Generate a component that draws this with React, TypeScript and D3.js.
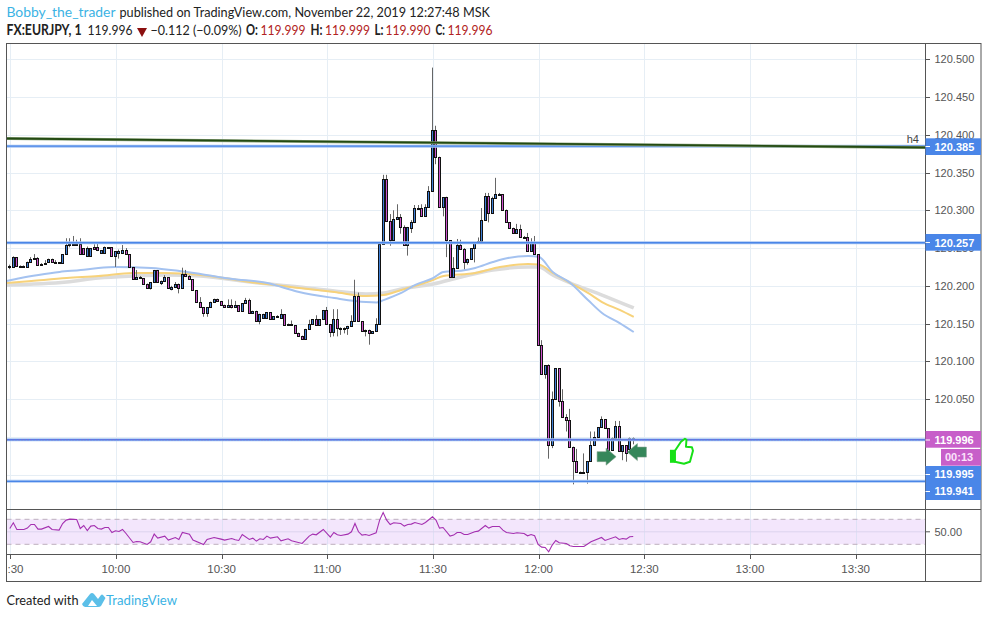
import React from "react";
import * as d3 from "d3";

// Prices are thousandths above 120.000
const basePrice = 120;
const opens = [225,225,238,226,226,225,231,236,237,228,229,231,236,231,231,230,242,254,254,256,256,250,240,240,252,252,244,244,251,251,240,243,243,247,242,225,209,212,210,203,197,205,221,204,207,211,196,199,203,197,216,213,209,194,179,172,164,172,179,182,180,174,172,175,172,174,167,177,181,164,167,153,157,157,165,156,159,158,162,148,150,148,138,134,130,143,150,156,148,156,168,149,139,156,144,144,144,147,154,187,153,140,142,137,140,149,255,341,286,261,288,291,278,254,277,284,303,303,292,304,326,407,371,305,317,260,212,224,254,249,232,236,250,258,259,287,319,297,316,322,321,301,284,277,270,275,265,264,246,258,242,122,83,95,-11,50,91,47,26,22,-13,-32,-46,-48,-46,-32,-11,0,13,23,11,-18,-1,14,-19,-11,-16,-1];
const highs = [228,239,238,227,227,232,238,242,238,230,234,236,236,234,231,242,263,263,266,261,263,250,252,250,255,256,247,252,251,251,246,248,254,250,242,225,221,213,210,203,205,221,221,207,214,211,200,205,203,224,221,214,209,194,185,172,172,179,183,183,180,175,182,182,180,174,177,184,183,167,167,163,163,165,165,160,161,169,162,150,154,148,138,134,143,155,156,161,156,168,172,149,169,169,145,145,147,161,208,191,153,142,142,140,157,255,347,347,295,300,308,295,280,278,287,307,307,308,308,332,489,412,371,317,318,260,238,262,261,250,236,250,258,264,303,323,323,318,343,323,321,301,284,277,282,281,266,270,263,266,242,128,95,96,60,91,91,63,30,37,-13,-16,-46,-22,-32,7,7,13,27,23,11,-1,21,21,-11,-11,-1,-1];
const lows = [222,224,225,225,225,224,231,236,228,228,228,231,231,230,229,230,242,251,254,255,242,242,240,240,249,246,244,244,250,240,225,236,243,242,225,209,208,210,203,197,195,205,205,201,207,197,194,197,190,197,213,209,194,179,172,159,159,172,179,180,174,172,172,170,172,167,167,177,164,164,153,149,157,157,156,156,158,158,148,148,148,138,134,130,130,143,150,148,148,156,149,132,133,133,135,137,135,147,154,153,140,133,122,137,140,149,255,286,253,260,288,269,254,240,270,283,303,292,292,304,326,361,305,292,238,212,212,224,249,222,228,236,231,258,259,287,284,297,316,321,301,284,277,270,270,265,264,246,246,242,122,83,77,-29,-15,50,40,26,7,-13,-63,-46,-48,-48,-62,-32,-11,0,13,11,-18,-18,-1,-19,-31,-33,-20,-10];
const closes = [226,238,226,226,226,231,236,237,228,229,230,236,231,231,230,242,254,255,256,256,242,242,250,250,249,247,247,251,251,240,246,246,247,242,225,209,212,210,203,197,205,221,205,207,211,197,199,203,197,216,213,209,194,179,172,164,172,179,182,180,174,172,175,172,175,167,177,181,164,167,153,163,163,165,156,160,160,162,148,150,148,138,134,130,143,150,156,148,156,168,149,139,156,144,144,144,147,154,187,153,140,142,137,140,149,255,341,286,261,288,291,278,254,278,284,303,303,292,304,326,407,371,305,317,260,212,224,254,249,232,236,250,258,259,287,319,297,316,322,321,301,284,277,270,275,265,264,246,258,242,122,83,95,-11,50,91,47,26,22,-13,-32,-46,-48,-46,-32,-11,0,13,23,11,-18,-1,14,-19,-11,-22,-1,-4];

const blueMinutes = [-1,3,8,14,20,25,30,40,48,54,63,73,77,82,92,101,104,106,111,115,120,123,128,132,137,140,147,150,154,159,164,168,173,177];
const blueValues = [206.4,210.3,214.3,218.3,220.9,223.6,224.9,223.6,219.6,215.6,209,203.7,198.4,191.8,183.8,178.5,178,181.1,190.5,201.1,210.3,218.3,220,223.6,231.5,235.5,239.5,238.4,218.3,203.7,181.2,164,150.7,138.8];
const yellowMinutes = [-1,6,16,25,35,44,54,68,82,92,101,106,111,120,123,132,139,147,150,154,159,164,168,173,177];
const yellowValues = [203.7,206.4,210.3,213,217,217,214.4,205,197.1,191.8,186.5,187.8,194.4,207.7,213,217,224.9,228.9,228.2,217,203.7,190.5,178.5,168,158.7];
const grayMinutes = [-1,16,25,35,44,54,68,82,92,101,106,111,120,128,137,147,150,154,159,168,177];
const grayValues = [201.1,205,210.3,213,214.4,213,205,198.4,193.1,189.2,190.5,195.8,202.4,211.7,220.9,224.9,224.9,214.4,203.7,187.8,170.6];

const rsiMinutes = [0,1,2,4,5,6,7,8,9,11,12,14,15,16,17,19,20,21,22,23,24,25,26,27,28,29,30,31,32,33,35,36,37,39,40,41,42,44,45,47,48,49,51,52,55,56,58,60,61,63,64,65,66,68,69,70,71,72,73,74,76,77,79,80,83,85,86,87,89,91,92,93,94,96,97,98,99,100,101,102,104,105,106,107,108,109,111,112,113,114,115,117,118,120,121,122,123,125,126,127,128,129,130,132,133,135,136,137,139,140,141,143,144,146,147,148,149,150,151,152,153,154,155,156,158,159,160,163,165,168,169,172,173,174,175,176,177];
const rsiValues = [55.3,64.4,53.7,53.7,55.9,61.7,61.7,54.3,54.3,58.5,53.7,52.7,63.3,68.7,70.3,69.7,55.3,60.1,52.1,59.1,60.1,55.3,54.3,56.9,56.9,48.9,51.6,50.5,53.7,47.3,32.9,34.5,34,29.7,34,46.3,39.9,43.1,36.7,40.9,37.7,48.9,46.3,36.7,29.7,37.7,40.9,38.3,36.7,39.3,37.2,36.1,45.7,37.7,39.9,35.1,38.8,37.7,43.1,39.9,42,35.6,38.8,35.6,31.3,43.1,46.3,45.2,53.7,41.5,48.9,45.2,44.1,46.3,50,63.3,50,44.7,45.7,44.1,48.4,68.7,80.9,68.7,61.7,64.4,63.3,59.1,61.7,62.3,64.9,61.7,64.9,74,68.7,55.9,56.9,43.1,44.7,48.9,48.9,45.7,45.7,50,51.1,60.1,55.9,58.5,58.5,52.7,48.9,47.3,48.4,47.3,43.6,45.7,43.6,29.7,25.5,24.9,18,28.7,36.1,32.4,31.3,27.6,26.5,26.5,34,40.9,36.1,42,37.7,39.3,38.3,42,42.5];

const priceTicks = [120.5,120.45,120.4,120.35,120.3,120.25,120.2,120.15,120.1,120.05,120,119.95];
const labeledPriceTicks = [120.5,120.45,120.4,120.35,120.3,120.25,120.2,120.15,120.1,120.05];
const timeTicks = [0,30,60,90,120,150,180,210,240];
const timeLabels = [":30","10:00","10:30","11:00","11:30","12:00","12:30","13:00","13:30"];
const levelLines = [120.385,120.257,119.996,119.941];
const trendPrices = [120.3951,120.3832];
const trendMinutes = [-1,260];

const GRID = "#e6eef5";
const FRAME = "#555";
const BLUE = "#4a86e8";
const MAG = "#c75fc9";
const RED = "#b22222";
const FONT = "Liberation Sans, Arial, sans-serif";
const HEAD = "Lato, sans-serif";

const x = d3.scaleLinear().domain([0, 180]).range([10.3, 644.3]);
const y = d3.scaleLinear().domain([120.5, 119.95]).range([59.3, 474.55]);
const rsiY = d3.scaleLinear().domain([70, 30]).range([519.3, 544.3]);

const toPrice = (v: number) => basePrice + v / 1000;

function maPath(mins: number[], vals: number[]) {
  const pts = mins.map((m, i) => [x(m), y(toPrice(vals[i]))] as [number, number]);
  return d3.line().curve(d3.curveMonotoneX)(pts) || "";
}

const rsiPath =
  d3.line().curve(d3.curveLinear)(rsiMinutes.map((m, i) => [x(m) - 0.5, rsiY(rsiValues[i])] as [number, number])) || "";

function PriceBox({ top, h, fill, left = 925.5 }: any) {
  return <rect x={left} y={top} width={981 - left} height={h} fill={fill} />;
}

function Fit({ x: tx, y: ty, w, children, ...rest }: any) {
  return (
    <text x={tx} y={ty} textLength={w} lengthAdjust="spacingAndGlyphs" fontFamily={HEAD} fontSize={14.2} {...rest}>
      {children}
    </text>
  );
}

export default function App() {
  const left = 6.5, right = 925.5, outer = 981, top = 43.5, mainB = 509.5, rsiB = 554.5, timeB = 581.5;
  return (
    <svg width={988} height={618} style={{ position: "absolute", left: 0, top: 0, display: "block", background: "#fff" }}>
      <defs>
        <clipPath id="plot"><rect x={left} y={top} width={right - left} height={mainB - top} /></clipPath>
      </defs>

      {/* header */}
      <Fit x={6.5} y={17} w={109} fill="#3bb3e4">Bobby_the_trader</Fit>
      <Fit x={119.5} y={17} w={370.5} fill="#222">published on TradingView.com, November 22, 2019 12:27:48 MSK</Fit>
      <Fit x={6.5} y={34.5} w={75} fill="#222" fontWeight={700}>FX:EURJPY, 1</Fit>
      <Fit x={87.5} y={34.5} w={45} fill="#222">119.996</Fit>
      <path d={d3.line()([[137, 28], [147, 28], [142, 37]] as any) + "Z"} fill="#8b0f0f" />
      <Fit x={150.5} y={34.5} w={91} fill="#222">−0.112 (−0.09%)</Fit>
      <Fit x={246} y={34.5} w={12} fill="#222" fontWeight={700}>O:</Fit>
      <Fit x={260.5} y={34.5} w={45} fill={RED}>119.999</Fit>
      <Fit x={310.5} y={34.5} w={12} fill="#222" fontWeight={700}>H:</Fit>
      <Fit x={325} y={34.5} w={45} fill={RED}>119.999</Fit>
      <Fit x={374.5} y={34.5} w={9} fill="#222" fontWeight={700}>L:</Fit>
      <Fit x={385.5} y={34.5} w={45} fill={RED}>119.990</Fit>
      <Fit x={435.5} y={34.5} w={9.5} fill="#222" fontWeight={700}>C:</Fit>
      <Fit x={447.5} y={34.5} w={45} fill={RED}>119.996</Fit>

      {/* grid */}
      {priceTicks.map((p) => (
        <line key={p} x1={left} x2={right} y1={Math.round(y(p)) + 0.5} y2={Math.round(y(p)) + 0.5} stroke={GRID} />
      ))}
      {timeTicks.map((t) => (
        <line key={t} x1={Math.round(x(t)) + 0.5} x2={Math.round(x(t)) + 0.5} y1={top} y2={rsiB} stroke={GRID} />
      ))}

      <g clipPath="url(#plot)">
        {/* moving averages */}
        <path d={maPath(grayMinutes, grayValues)} fill="none" stroke="#dcdcdc" strokeWidth={3.5} />
        <path d={maPath(yellowMinutes, yellowValues)} fill="none" stroke="#f7d27a" strokeWidth={2} />
        <path d={maPath(blueMinutes, blueValues)} fill="none" stroke="#a4c2f0" strokeWidth={2} />

        {/* candles */}
        {opens.map((o, i) => {
          const c = closes[i];
          const x0 = Math.round(x(i) - 2);
          const cx = x0 + 1.5;
          const a = Math.round(y(toPrice(Math.max(o, c)))) + 0.5;
          let b = Math.round(y(toPrice(Math.min(o, c)))) + 0.5;
          if (b - a < 1) b = a + 1;
          return (
            <g key={i}>
              <line x1={cx} x2={cx} y1={y(toPrice(highs[i]))} y2={y(toPrice(lows[i]))} stroke="#666" />
              <rect x={x0 + 0.5} y={a} width={2} height={b - a} fill={c >= o ? "#3f7fd6" : "#cc52cc"} stroke="#111" />
            </g>
          );
        })}

        {/* levels */}
        {levelLines.map((p) => (
          <g key={p}>
            <line x1={left} x2={right} y1={y(p)} y2={y(p)} stroke="#a9c6f3" strokeWidth={3} />
            <line x1={left} x2={right} y1={y(p)} y2={y(p)} stroke={BLUE} strokeWidth={1.4} />
          </g>
        ))}
        <line x1={left} x2={right} y1={y(119.996)} y2={y(119.996)} stroke="#b04fc0" strokeDasharray="1 2" />

        {/* trend line */}
        <line x1={x(trendMinutes[0])} x2={x(trendMinutes[1])} y1={y(trendPrices[0])} y2={y(trendPrices[1])} stroke="#8fa680" strokeWidth={3} />
        <line x1={x(trendMinutes[0])} x2={x(trendMinutes[1])} y1={y(trendPrices[0])} y2={y(trendPrices[1])} stroke="#234a12" strokeWidth={1.8} />

        {/* arrows and thumb */}
        <g transform={`translate(${x(166.6)},${y(119.985)})`}>
          <path d="M0,3.5 H9 V0 L19,8.5 L9,17 V13.5 H0 Z" fill="#35875a" stroke="#7f9f8c" strokeWidth={0.6} />
        </g>
        <g transform={`translate(${x(175.2)},${y(119.991)})`}>
          <path d="M19,3.5 H10 V0 L0,8.5 L10,17 V13.5 H19 Z" fill="#35875a" stroke="#7f9f8c" strokeWidth={0.6} />
        </g>
        <g transform={`translate(${x(187)},${y(120.0)})`}>
          <rect x={1} y={13} width={5} height={13} fill="#16e016" />
          <path d="M6,14 L12,5 L16,2 L17.5,3 L17,10 L23,10.5 L24,14 L21,25 L15,27 L6,25 Z" fill="#fff" stroke="#16e016" strokeWidth={2} strokeLinejoin="round" />
        </g>
      </g>

      <text x={919} y={143} textAnchor="end" fontFamily={FONT} fontSize={11} fill="#444">h4</text>

      {/* rsi */}
      <rect x={left} y={rsiY(70)} width={right - left} height={rsiY(30) - rsiY(70)} fill="#f3e6fc" />
      {timeTicks.map((t) => (
        <line key={t} x1={Math.round(x(t)) + 0.5} x2={Math.round(x(t)) + 0.5} y1={rsiY(70)} y2={rsiY(30)} stroke="#dfe0f5" />
      ))}
      <line x1={left} x2={right} y1={rsiY(50)} y2={rsiY(50)} stroke="#dcd3ee" />
      <line x1={left} x2={right} y1={rsiY(70)} y2={rsiY(70)} stroke="#bdaebd" strokeDasharray="5 4" />
      <line x1={left} x2={right} y1={rsiY(30)} y2={rsiY(30)} stroke="#bdaebd" strokeDasharray="5 4" />
      <path d={rsiPath} fill="none" stroke="#a42fb0" strokeWidth={1.1} />

      {/* frame */}
      <rect x={left} y={top} width={outer - left} height={timeB - top} fill="none" stroke={FRAME} />
      <line x1={left} x2={outer} y1={mainB} y2={mainB} stroke={FRAME} />
      <line x1={left} x2={outer} y1={rsiB} y2={rsiB} stroke={FRAME} />
      <line x1={right} x2={right} y1={top} y2={timeB} stroke={FRAME} />

      {/* price axis */}
      {labeledPriceTicks.map((p) => (
        <g key={p}>
          <line x1={right} x2={930} y1={Math.round(y(p)) + 0.5} y2={Math.round(y(p)) + 0.5} stroke={FRAME} />
          <text x={934.5} y={y(p) + 4} fontFamily={FONT} fontSize={11} fill="#555">{d3.format(".3f")(p)}</text>
        </g>
      ))}
      <line x1={right} x2={930} y1={rsiY(50)} y2={rsiY(50)} stroke={FRAME} />
      <text x={934.5} y={rsiY(50) + 4} fontFamily={FONT} fontSize={11} fill="#555">50.00</text>

      {/* price boxes */}
      <PriceBox top={138.3} h={16.7} fill={BLUE} />
      <PriceBox top={234} h={16.7} fill={BLUE} />
      <PriceBox top={431} h={16.7} fill={MAG} />
      <PriceBox top={449} h={16.7} fill={MAG} left={941} />
      <PriceBox top={466} h={34} fill={BLUE} />
      <g fontFamily={FONT} fontSize={11} fontWeight={700} fill="#fff">
        <text x={934.5} y={150.7}>120.385</text>
        <text x={934.5} y={246.7}>120.257</text>
        <text x={934.5} y={443.5}>119.996</text>
        <text x={945} y={461} fill="#fbe3fb">00:13</text>
        <text x={934.5} y={478.3}>119.995</text>
        <text x={934.5} y={495}>119.941</text>
      </g>
      <line x1={925.5} x2={930} y1={146.5} y2={146.5} stroke="#fff" />
      <line x1={925.5} x2={930} y1={242.5} y2={242.5} stroke="#fff" />
      <line x1={925.5} x2={930} y1={440} y2={440} stroke="#fff" />
      <line x1={925.5} x2={930} y1={474.5} y2={474.5} stroke="#fff" />
      <line x1={925.5} x2={930} y1={491.5} y2={491.5} stroke="#fff" />

      {/* time axis */}
      {timeTicks.map((t, i) => (
        <g key={t}>
          <line x1={Math.round(x(t)) + 0.5} x2={Math.round(x(t)) + 0.5} y1={rsiB} y2={rsiB + 4.5} stroke={FRAME} />
          <text
            x={i === 0 ? 7.5 : x(t)}
            y={573}
            textAnchor={i === 0 ? "start" : "middle"}
            fontFamily={FONT}
            fontSize={11.5}
            fill="#555"
          >
            {timeLabels[i]}
          </text>
        </g>
      ))}

      {/* footer */}
      <Fit x={6.5} y={605} w={72} fill="#222">Created with</Fit>
      <path d="M82,604 L90,594 Q92,592 94,594 L98,599 L101,595 Q102,594 103,595 L105.5,598 L101,606 Q100,607 98,607 L88,607 L85,607 Q83,607 82,604 Z" fill="#5cbfe8" />
      <path d="M88,606 L92,600 L97,606 Z" fill="#fff" />
      <Fit x={106} y={605} w={71} fill="#3bb3e4">TradingView</Fit>
    </svg>
  );
}
